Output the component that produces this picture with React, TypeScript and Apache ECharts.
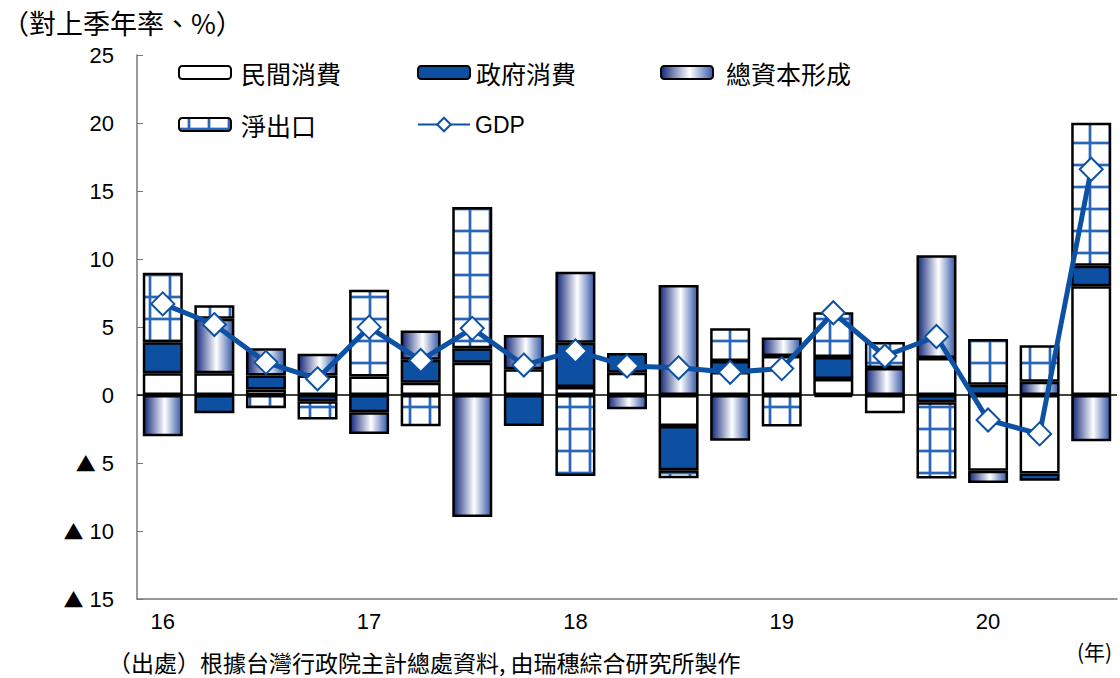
import React, { useEffect, useRef } from "react";
import * as echarts from "echarts";

const categories = [
  "16Q1", "16Q2", "16Q3", "16Q4",
  "17Q1", "17Q2", "17Q3", "17Q4",
  "18Q1", "18Q2", "18Q3", "18Q4",
  "19Q1", "19Q2", "19Q3", "19Q4",
  "20Q1", "20Q2", "20Q3",
];
const privateConsumption = [1.6, 1.6, 0.4, 1.43, 1.36, 0.9, 2.37, 1.89, 0.59, 1.64, -2.28, 1.7, 2.87, 1.18, -1.34, 2.72, -5.57, -5.77, 7.99];
const governmentConsumption = [2.28, -1.34, 1.03, -0.46, -1.26, 1.7, 1.06, -2.28, 3.26, 1.45, -3.26, 0.8, null, 1.61, null, -0.54, 0.76, -0.53, 1.52];
const capitalFormation = [-3.03, 4.0, 2.0, 1.6, -1.6, 2.15, -8.97, 2.52, 5.22, -1.05, 8.09, -3.36, 1.35, -0.15, 1.98, 7.55, -0.9, 0.98, -3.4];
const netExports = [5.1, 1.0, -0.97, -1.34, 6.37, -2.29, 10.4, null, -5.96, null, -0.59, 2.4, -2.32, 3.3, 1.92, -5.6, 3.36, 2.67, 10.5];
const gdp = [6.7, 5.18, 2.4, 1.19, 4.99, 2.54, 4.9, 2.2, 3.24, 2.13, 2.0, 1.67, 1.94, 6.05, 2.87, 4.3, -1.84, -2.86, 16.6];

const yTicks = { min: -15, max: 25, interval: 5 };

const CJK = '"Noto Sans CJK TC", "Noto Sans CJK JP", sans-serif';
const NUM = '"Liberation Sans Narrow", "Liberation Sans", Arial, sans-serif';

function makeGridPattern(): HTMLCanvasElement {
  const c = document.createElement("canvas");
  c.width = 20;
  c.height = 22;
  const ctx = c.getContext("2d")!;
  ctx.fillStyle = "#ffffff";
  ctx.fillRect(0, 0, 20, 22);
  ctx.fillStyle = "rgba(40,100,190,0.35)";
  ctx.fillRect(8, 0, 4, 22);
  ctx.fillRect(0, 9, 20, 4);
  ctx.fillStyle = "#2a66b8";
  ctx.fillRect(9, 0, 2, 22);
  ctx.fillRect(0, 10, 20, 2);
  return c;
}

export default function App() {
  const ref = useRef<HTMLDivElement>(null);
  useEffect(() => {
    if (!ref.current) return;
    const chart = echarts.init(ref.current, null, { renderer: "svg" });
    const gridPattern = { image: makeGridPattern(), repeat: "repeat" } as any;
    const cylinder = new echarts.graphic.LinearGradient(0, 0, 1, 0, [
      { offset: 0, color: "#13287a" },
      { offset: 0.55, color: "#ffffff" },
      { offset: 1, color: "#3558a8" },
    ]);
    const barBase = {
      type: "bar",
      stack: "total",
      barWidth: 40,
      itemStyle: { borderColor: "#000", borderWidth: 2.5 },
    };
    const legendText = { fontSize: 25, color: "#000", fontFamily: CJK, padding: [0, 0, 0, 5] };
    const legendCommon = {
      itemWidth: 52,
      itemHeight: 13,
      textStyle: legendText,
      selectedMode: false,
    };
    const option: any = {
      animation: false,
      grid: { left: 137, right: 3, top: 55, bottom: 79, containLabel: false },
      legend: [
        { ...legendCommon, data: ["民間消費"], left: 173, top: 55 },
        { ...legendCommon, data: ["政府消費"], left: 412, top: 55, textStyle: { ...legendText, padding: [0, 0, 0, 1] } },
        { ...legendCommon, data: ["總資本形成"], left: 655, top: 55, textStyle: { ...legendText, padding: [0, 0, 0, 8] } },
        { ...legendCommon, data: ["淨出口"], left: 173, top: 107 },
        { ...legendCommon, data: ["GDP"], left: 412, top: 108, itemHeight: 17, textStyle: { ...legendText, fontFamily: "Liberation Sans, Arial, sans-serif", fontSize: 23, padding: [0, 0, 0, 0] } },
      ],
      xAxis: {
        type: "category",
        data: categories,
        boundaryGap: true,
        axisLine: { onZero: false, lineStyle: { color: "#777", width: 1.5 } },
        axisTick: {
          inside: true,
          length: 8,
          interval: (i: number) => i % 4 === 0,
          lineStyle: { color: "#777", width: 1 },
        },
        axisLabel: {
          interval: 0,
          formatter: (v: string) => (v.endsWith("Q1") ? v.slice(0, 2) : ""),
          color: "#000",
          fontSize: 22,
          fontFamily: NUM,
          margin: 11,
        },
        splitLine: { show: false },
      },
      yAxis: {
        type: "value",
        min: yTicks.min,
        max: yTicks.max,
        interval: yTicks.interval,
        axisLine: { show: true, lineStyle: { color: "#777", width: 1.5 } },
        axisTick: { show: true, inside: true, length: 6, lineStyle: { color: "#777" } },
        axisLabel: {
          formatter: (v: number) => (v < 0 ? "{t|▲} " + -v : String(v)),
          color: "#000",
          fontSize: 22,
          fontFamily: NUM,
          margin: 23,
          rich: {
            t: { fontFamily: CJK, fontSize: 20, color: "#000" },
          },
        },
        splitLine: { show: false },
      },
      series: [
        { ...barBase, name: "民間消費", data: privateConsumption, itemStyle: { ...barBase.itemStyle, color: "#ffffff" } },
        { ...barBase, name: "政府消費", data: governmentConsumption, itemStyle: { ...barBase.itemStyle, color: "#0d4fa1" } },
        { ...barBase, name: "總資本形成", data: capitalFormation, itemStyle: { ...barBase.itemStyle, color: cylinder } },
        { ...barBase, name: "淨出口", data: netExports, itemStyle: { ...barBase.itemStyle, color: gridPattern } },
        {
          type: "line",
          name: "GDP",
          data: gdp,
          z: 5,
          symbol: "diamond",
          symbolSize: 23,
          lineStyle: { color: "#0c51a3", width: 5 },
          itemStyle: { color: "#ffffff", borderColor: "#0c51a3", borderWidth: 2 },
          markLine: {
            silent: true,
            symbol: "none",
            label: { show: false },
            lineStyle: { color: "#000", width: 1.5, type: "solid" },
            data: [{ yAxis: 0 }],
            z: 1,
          },
        },
      ],
      graphic: [
        { type: "text", left: 2, top: 9, style: { text: "（對上季年率、%）", fontSize: 27, fontFamily: CJK, fill: "#000" } },
        { type: "text", left: 1077, top: 640, style: { text: "(年)", fontSize: 21, fontFamily: CJK, fill: "#000" } },
        { type: "text", left: 108, top: 650, style: { text: "（出處）根據台灣行政院主計總處資料, 由瑞穗綜合研究所製作", fontSize: 23, fontFamily: CJK, fill: "#000" } },
      ],
    };
    chart.setOption(option);
    return () => chart.dispose();
  }, []);
  return <div ref={ref} style={{ width: 1120, height: 678, position: "absolute", left: 0, top: 0 }} />;
}
